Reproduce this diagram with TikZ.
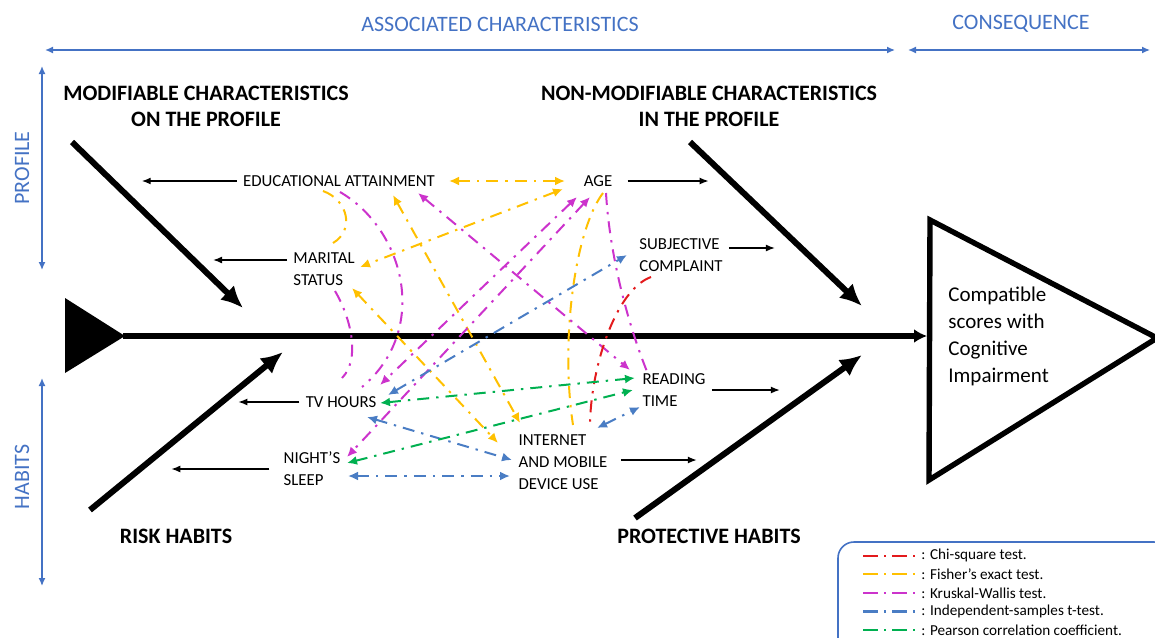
\documentclass[tikz,border=0pt]{standalone}
\usepackage{fontspec}
\setmainfont{Carlito}
\usetikzlibrary{arrows.meta}

\definecolor{axisblue}{HTML}{4472C4}
\definecolor{chicol}{HTML}{E31A1C}
\definecolor{fishcol}{HTML}{FFC000}
\definecolor{kwcol}{HTML}{CC33CC}
\definecolor{ttcol}{HTML}{4A7DC4}
\definecolor{pecol}{HTML}{00B050}

\tikzset{
  lbl/.style={font=\fontsize{8.4}{11}\selectfont, align=left, inner sep=3pt},
  head/.style={font=\fontsize{11}{13}\selectfont\bfseries, align=center},
  axislbl/.style={axisblue, font=\fontsize{11}{13}\selectfont},
  axis/.style={axisblue, line width=0.7pt, {Latex[length=4pt,width=3.5pt]}-{Latex[length=4pt,width=3.5pt]}},
  bone/.style={line width=3pt, -{Latex[length=11pt,width=10pt]}},
  spine/.style={line width=3.2pt, -{Latex[length=6.5pt,width=7pt]}},
  pointer/.style={line width=0.7pt, -{Latex[length=4.5pt,width=3.5pt]}},
  rel/.style={line width=1pt, dash pattern=on 6pt off 3.5pt on 1.2pt off 3.5pt},
  assoc/.style={rel, {Latex[length=5pt,width=4.5pt]}-{Latex[length=5pt,width=4.5pt]}},
  sample/.style={line width=1.1pt, dash pattern=on 7.5pt off 3pt on 1pt off 3pt},
  key/.style={font=\fontsize{7.6}{9}\selectfont, inner sep=0pt, anchor=west},
  chisq/.style={chicol}, fisher/.style={fishcol}, kruskal/.style={kwcol},
  ttest/.style={ttcol}, pearson/.style={pecol}
}

\begin{document}
\begin{tikzpicture}[x=0.5pt,y=-0.5pt]
\useasboundingbox (0,0) rectangle (1155,637);

% axes
\node[axislbl] (asslbl) at (500,24) {ASSOCIATED CHARACTERISTICS};
\node[axislbl] (conlbl) at (1021,24) {CONSEQUENCE};
\node[axislbl, rotate=90] (prolbl) at (22,168) {PROFILE};
\node[axislbl, rotate=90] (hablbl) at (22,477) {HABITS};
\draw[axis] (45,50) -- (895,50);
\draw[axis] (908,50) -- (1150,50);
\draw[axis] (42,66) -- (42,270);
\draw[axis] (42,378) -- (42,586);

% fish
\coordinate (tail) at (123,336);
\coordinate (spineend) at (927,336);
\fill (65,298) -- (125,336) -- (65,373) -- cycle;
\draw[spine] (tail) -- (spineend);
\coordinate (ul0) at (72,142);  \coordinate (ul1) at (243,308);
\coordinate (ur0) at (690,142); \coordinate (ur1) at (862,306);
\coordinate (ll0) at (90,510);  \coordinate (ll1) at (283,352);
\coordinate (lr0) at (635,518); \coordinate (lr1) at (862,355);
\draw[bone] (ul0) -- (ul1);
\draw[bone] (ur0) -- (ur1);
\draw[bone] (ll0) -- (ll1);
\draw[bone] (lr0) -- (lr1);
\draw[line width=2.7pt] (930,220) -- (1157,338) -- (929,480) -- cycle;
\node[anchor=west, align=left, inner sep=0pt, font=\fontsize{10.5}{13.5}\selectfont] (effect) at (948,336)
  {Compatible\\scores with\\Cognitive\\Impairment};

% headings
\node[head] (modif) at (206,106) {MODIFIABLE CHARACTERISTICS\\ON THE PROFILE};
\node[head] (nonmod) at (709,106) {NON-MODIFIABLE CHARACTERISTICS\\IN THE PROFILE};
\node[head] (risk) at (176,536) {RISK HABITS};
\node[head] (prot) at (709,536) {PROTECTIVE HABITS};

% characteristics
\node[lbl] (edu) at (339,181) {EDUCATIONAL ATTAINMENT};
\node[lbl] (age) at (598,181) {AGE};
\node[lbl] (mar) at (324,269) {MARITAL\\STATUS};
\node[lbl] (subj) at (681,255) {SUBJECTIVE\\COMPLAINT};
\node[lbl] (tv) at (341,402) {TV HOURS};
\node[lbl] (read) at (674,390) {READING\\TIME};
\node[lbl] (sleep) at (312,469) {NIGHT'S\\SLEEP};
\node[lbl] (inet) at (563,462) {INTERNET\\AND MOBILE\\DEVICE USE};

\draw[pointer] (edu.west) -- ++(-95,0);
\draw[pointer] ([yshift=4.5pt]mar.west) -- ++(-74,0);
\draw[pointer] (tv.west) -- ++(-61,0);
\draw[pointer] ([xshift=-4pt]sleep.west) -- ++(-98,0);
\draw[pointer] ([xshift=4.5pt]age.east) -- ++(81,0);
\draw[pointer] ([yshift=3.5pt]subj.east) -- ++(46,0);
\draw[pointer] (read.east) -- ++(68,0);
\draw[pointer] ([xshift=3.5pt,yshift=1pt]inet.east) -- ++(76,0);

% Fisher's exact test
\draw[assoc,fisher] ([shift={(110,0)}]edu.center) -- ([shift={(-33,0)}]age.center);
\draw[assoc,fisher] ([shift={(-35,8)}]age.center) -- ([shift={(36,-2)}]mar.center);
\draw[rel,fisher] ([shift={(-16,10)}]edu.center) .. controls +(25,9) and +(22,-13) .. ([shift={(9,-26)}]mar.center);
\draw[assoc,fisher] ([shift={(54,14)}]edu.center) -- ([shift={(-43,-39)}]inet.center);
\draw[assoc,fisher] ([shift={(28,19)}]mar.center) -- ([shift={(-65,-19)}]inet.center);
\draw[rel,fisher] ([shift={(5,12)}]age.center) .. controls +(-28,37) and +(-13,-85) .. ([shift={(10,-37)}]inet.center);

% Kruskal-Wallis test
\draw[rel,kruskal] ([shift={(1,11)}]edu.center) .. controls +(65,38) and +(68,-57) .. ([shift={(21,-15)}]tv.center);
\draw[rel,kruskal] ([shift={(11,22)}]mar.center) .. controls +(17,29) and +(18,-18) .. ([shift={(1,-24)}]tv.center);
\draw[assoc,kruskal] ([shift={(-21,16)}]age.center) -- ([shift={(39,-17)}]tv.center);
\draw[assoc,kruskal] ([shift={(-8,16)}]age.center) -- ([shift={(35,-12)}]sleep.center);
\draw[assoc,kruskal] ([shift={(79,12)}]edu.center) -- ([shift={(-44,-20)}]read.center);
\draw[rel,kruskal] ([shift={(8,12)}]age.center) .. controls +(4,67) and +(-18,-44) .. ([shift={(-26,-16)}]read.center);

% Chi-square test
\draw[rel,chisq] ([shift={(-30,22)}]subj.center) .. controls +(-36,13) and +(0,-57) .. ([shift={(27,-35)}]inet.center);

% t-test
\draw[assoc,ttest] ([shift={(47,-7)}]tv.center) -- ([shift={(-54,0)}]subj.center);
\draw[assoc,ttest] ([shift={(26,15)}]tv.center) -- ([shift={(-51,-2)}]inet.center);
\draw[assoc,ttest] ([shift={(36,7)}]sleep.center) -- ([shift={(-53,14)}]inet.center);
\draw[assoc,ttest] ([shift={(34,-34)}]inet.center) -- ([shift={(-34,17)}]read.center);

% Pearson
\draw[assoc,pearson] ([shift={(39,1)}]tv.center) -- ([shift={(-39,-12)}]read.center);
\draw[assoc,pearson] ([shift={(35,-6)}]sleep.center) -- ([shift={(-41,0)}]read.center);

% legend
\draw[axisblue, line width=0.8pt, rounded corners=8pt] (838,542) rectangle (1170,655);
\foreach \sty/\txt [count=\i] in {chisq/Chi-square test., fisher/Fisher's exact test.,
    kruskal/Kruskal-Wallis test., ttest/Independent-samples t-test.,
    pearson/Pearson correlation coefficient.} {
  \node[key] (key\i) at (921,537+18.6*\i) {: \txt};
  \draw[sample,\sty] ([xshift=-29pt]key\i.west) -- ([xshift=-2pt]key\i.west);
}
\end{tikzpicture}
\end{document}
